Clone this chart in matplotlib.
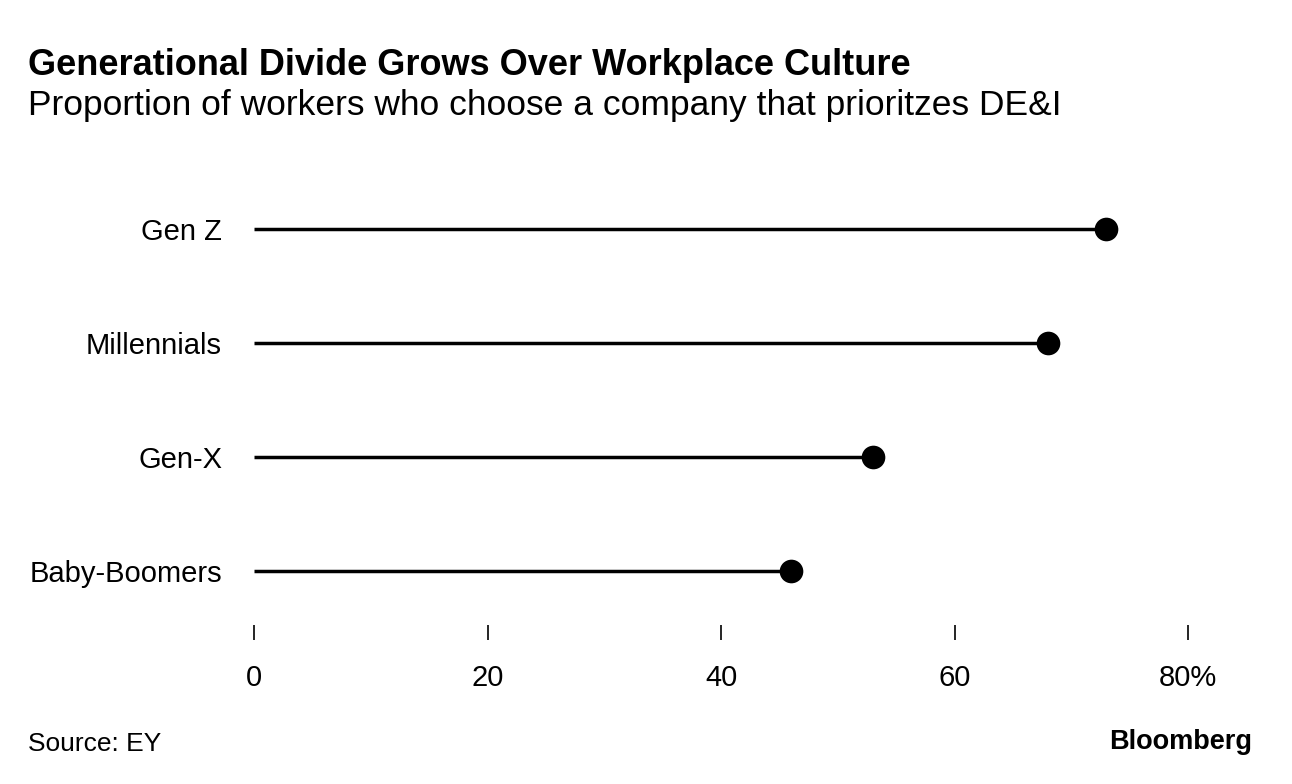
import matplotlib
matplotlib.use("Agg")
import matplotlib.pyplot as plt

categories = ["Baby-Boomers", "Gen-X", "Millennials", "Gen Z"]
values = [46, 53, 68, 73]
xticks = [0, 20, 40, 60, 80]
xticklabels = ["0", "20", "40", "60", "80%"]

plt.rcParams['font.family'] = ['Liberation Sans', 'DejaVu Sans']

W, H = 1292, 784
fig = plt.figure(figsize=(W / 100, H / 100), dpi=100)
fig.patch.set_facecolor("white")

left_px, right_px = 254, 1188
top_px, bottom_px = 190, 625
ax = fig.add_axes([left_px / W, 1 - bottom_px / H, (right_px - left_px) / W, (bottom_px - top_px) / H])

ypos = list(range(len(categories)))
ax.hlines(ypos, 0, values, color="black", linewidth=2.5, zorder=2)
ax.scatter(values, ypos, s=290, color="black", zorder=3, linewidths=0)

ax.set_xlim(0, 80)
sp = 114
ax.set_ylim(-(bottom_px - 571) / sp, 3 + (229 - top_px) / sp)

ax.set_xticks(xticks)
ax.set_xticklabels(xticklabels)
ax.set_yticks(ypos)
ax.set_yticklabels(categories)

for s in ax.spines.values():
    s.set_visible(False)

ax.tick_params(axis="x", direction="out", length=10.8, width=1.2, color="black",
               pad=17, labelsize=21, labelcolor="black")
ax.tick_params(axis="y", length=0, pad=23, labelsize=21, labelcolor="black")

fig.text(28 / W, 1 - 75 / H, "Generational Divide Grows Over Workplace Culture",
         fontsize=26, fontweight="bold", ha="left", va="baseline")
fig.text(28 / W, 1 - 115 / H, "Proportion of workers who choose a company that prioritzes DE&I",
         fontsize=25.5, ha="left", va="baseline")
fig.text(28 / W, 1 - 751 / H, "Source: EY", fontsize=19, ha="left", va="baseline")
fig.text(1252 / W, 1 - 749 / H, "Bloomberg", fontsize=19.5, fontweight="bold",
         ha="right", va="baseline")

fig.savefig("out.png", dpi=100, facecolor="white")
